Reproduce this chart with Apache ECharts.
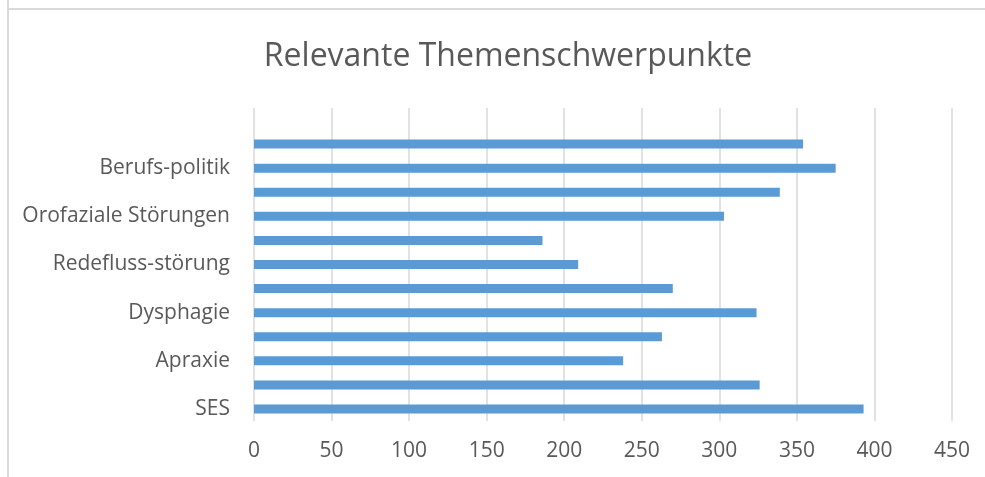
<!DOCTYPE html>
<html>
<head>
<meta charset="utf-8">
<script src="https://cdn.jsdelivr.net/npm/echarts@6/dist/echarts.min.js"></script>
<style>
html,body{margin:0;padding:0;background:#fff;}
#chart{width:985px;height:477px;}
</style>
</head>
<body>
<div id="chart"></div>
<script>
// Categories from bottom to top (hidden labels for every second bar are unknown)
const categories = ["SES", "", "Apraxie", "", "Dysphagie", "", "Redefluss-störung", "", "Orofaziale Störungen", "", "Berufs-politik", "", ""];
const values = [393, 326, 238, 263, 324, 270, 209, 186, 303, 339, 375, 354, null];
const xTicks = [0, 50, 100, 150, 200, 250, 300, 350, 400, 450];
const titleText = "Relevante Themenschwerpunkte";

const chart = echarts.init(document.getElementById('chart'));
const font = "'Open Sans', 'Noto Sans', sans-serif";
chart.setOption({
  animation: false,
  backgroundColor: '#ffffff',
  title: {
    text: titleText,
    left: 503, top: 36,
    textAlign: 'center',
    textStyle: { fontFamily: font, fontSize: 32, fontWeight: 'normal', color: '#595959' }
  },
  graphic: [
    { type: 'line', shape: { x1: 8, y1: 0, x2: 8, y2: 477 }, style: { stroke: '#d9d9d9', lineWidth: 2 }, silent: true },
    { type: 'line', shape: { x1: 8, y1: 9, x2: 985, y2: 9 }, style: { stroke: '#d9d9d9', lineWidth: 2 }, silent: true }
  ],
  grid: { left: 254, right: 33, top: 108, bottom: 56, containLabel: false },
  xAxis: {
    type: 'value',
    min: xTicks[0], max: xTicks[xTicks.length - 1], interval: 50,
    axisLine: { show: false },
    axisTick: { show: false },
    axisLabel: { fontFamily: font, fontSize: 21, color: '#595959', margin: 20 },
    splitLine: { show: true, lineStyle: { color: '#d9d9d9', width: 1.5 } }
  },
  yAxis: {
    type: 'category',
    data: categories,
    axisLine: { show: false },
    axisTick: { show: false },
    axisLabel: { interval: 1, fontFamily: font, fontSize: 21, color: '#595959', margin: 24 },
    splitLine: { show: false }
  },
  series: [{
    type: 'bar',
    data: values,
    barWidth: 9,
    itemStyle: { color: '#5b9bd5' }
  }]
});
</script>
</body>
</html>
